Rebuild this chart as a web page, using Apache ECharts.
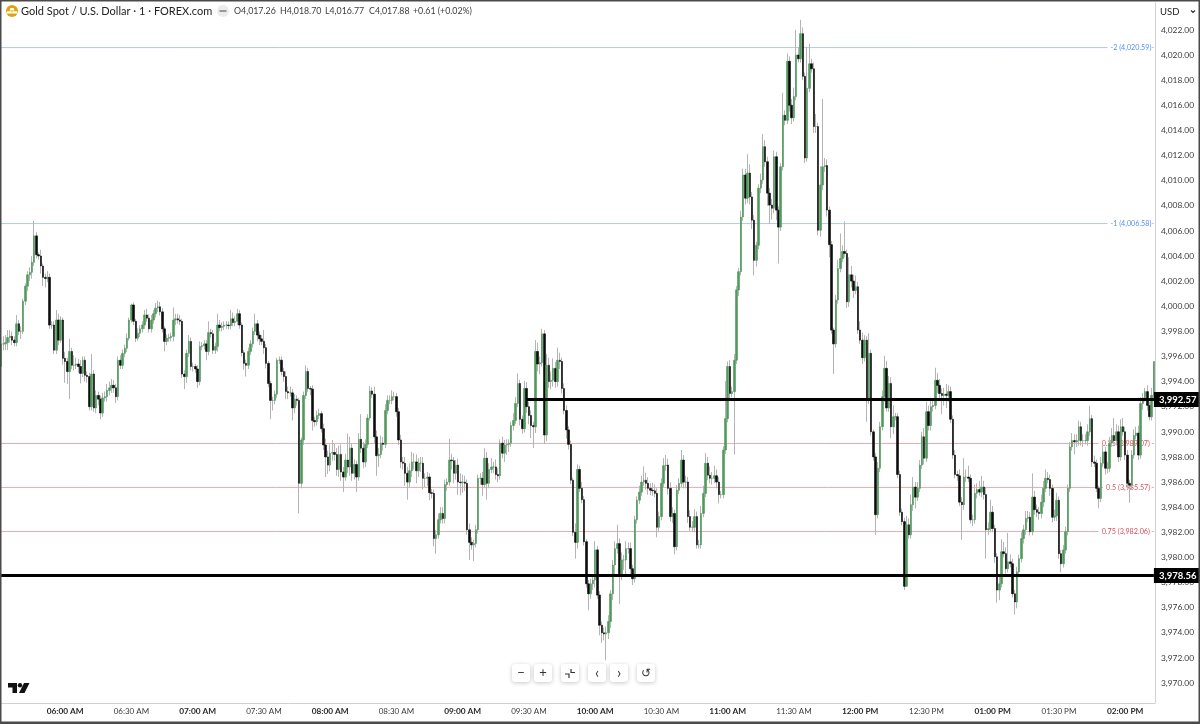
<!DOCTYPE html>
<html><head><meta charset="utf-8">
<style>html,body{margin:0;padding:0;background:#fff}#c{width:1200px;height:724px}</style>
<script src="https://cdn.jsdelivr.net/npm/echarts@6/dist/echarts.min.js"></script>
</head><body><div id="c"></div>
<script>
const firstOpen = 3995.2;
const closes = [
3997.0,3997.0,3997.1,3997.5,3997.6,3997.3,3997.1,3998.6,3998.0,3998.0,
4000.4,4001.6,4002.5,4002.7,4003.5,4005.6,4004.1,4004.0,4003.2,4002.3,
4002.2,4002.3,3998.5,3998.5,3996.5,3998.9,3997.3,3998.9,3995.85,3995.6,
3994.8,3996.4,3995.3,3995.3,3995.4,3995.2,3994.65,3995.7,3994.5,3994.4,
3992.0,3994.6,3991.9,3992.9,3992.6,3991.5,3992.7,3992.8,3993.3,3993.5,
3993.7,3993.5,3992.8,3995.7,3995.3,3996.25,3996.65,3997.45,3998.9,4000.1,
3998.8,3997.45,3997.85,3998.2,3998.5,3999.3,3999.05,3998.2,3998.9,3999.4,
3999.85,3999.95,3999.55,3998.2,3997.2,3997.45,3997.5,3997.6,3998.9,3999.0,
3998.9,3998.8,3994.6,3994.4,3996.25,3997.2,3995.2,3995.2,3995.0,3994.0,
3996.8,3996.85,3997.0,3996.4,3997.9,3997.8,3996.5,3996.8,3998.5,3998.3,
3998.4,3998.5,3998.5,3998.45,3999.0,3998.7,3998.8,3999.4,3998.5,3996.3,
3995.45,3995.3,3996.4,3997.0,3998.0,3998.6,3997.7,3997.4,3997.2,3996.7,
3995.45,3993.85,3992.5,3992.5,3993.0,3995.7,3995.7,3994.8,3994.4,3993.2,
3993.1,3993.1,3991.9,3992.6,3992.5,3985.9,3989.35,3992.9,3994.8,3993.45,
3993.4,3990.9,3990.8,3991.3,3991.45,3990.25,3988.95,3988.0,3987.35,3988.3,
3988.35,3988.2,3987.0,3988.2,3986.8,3986.4,3987.75,3987.2,3988.7,3986.7,
3987.4,3986.4,3989.4,3988.7,3987.6,3989.0,3991.1,3993.25,3993.0,3989.6,
3988.1,3988.2,3989.1,3989.0,3991.7,3992.5,3992.5,3992.8,3992.8,3991.6,
3989.35,3987.6,3987.5,3986.7,3986.0,3986.9,3987.6,3987.6,3986.9,3987.5,
3987.5,3986.3,3986.3,3986.4,3985.15,3985.1,3981.5,3981.8,3983.0,3983.5,
3983.1,3985.8,3986.0,3987.75,3987.7,3986.7,3987.35,3986.0,3985.95,3986.0,
3985.9,3982.2,3981.2,3981.0,3981.1,3982.2,3986.3,3986.3,3985.8,3987.9,
3985.9,3987.0,3987.2,3987.2,3986.6,3986.5,3989.1,3988.3,3988.95,3989.0,
3989.1,3990.5,3990.9,3992.26,3993.85,3991.0,3990.25,3993.45,3992.0,3991.3,
3990.5,3990.4,3996.4,3995.4,3995.5,3997.8,3989.75,3995.3,3994.0,3994.1,
3995.05,3994.0,3995.7,3995.6,3993.45,3991.7,3990.15,3989.0,3986.15,3982.0,
3981.2,3987.0,3985.5,3984.6,3981.25,3977.9,3977.1,3977.9,3978.2,3980.6,
3977.0,3974.6,3974.0,3973.9,3974.0,3974.9,3977.1,3979.4,3980.7,3981.1,
3978.7,3979.8,3979.8,3980.7,3980.7,3979.1,3978.3,3983.0,3984.56,3985.2,
3986.0,3986.15,3985.9,3985.5,3985.35,3985.3,3985.1,3982.4,3983.25,3985.9,
3987.3,3987.35,3985.5,3983.25,3983.5,3980.85,3985.35,3985.9,3987.75,3986.0,
3986.0,3983.25,3982.4,3982.4,3983.25,3981.0,3981.0,3983.5,3985.1,3987.5,
3986.55,3986.3,3986.3,3986.5,3986.0,3985.0,3985.0,3988.55,3991.05,3995.2,
3993.05,3993.2,3995.7,4001.3,4002.75,4007.1,4010.45,4008.6,4010.6,4008.7,
4006.85,4003.65,4004.85,4009.4,4010.05,4012.7,4011.5,4009.0,4008.05,4007.8,
4011.9,4007.65,4006.3,4011.1,4015.2,4014.8,4019.5,4016.0,4015.0,4016.7,
4020.0,4019.7,4021.7,4018.3,4011.8,4017.35,4019.3,4018.9,4014.3,4014.3,
4006.05,4009.65,4011.1,4011.2,4007.65,4004.9,3998.1,3997.0,4000.5,4003.0,
4003.8,4004.35,4004.2,4000.35,4002.5,4002.0,4001.25,4001.55,3998.1,3997.3,
3995.9,3997.3,3992.5,3996.25,3990.0,3988.0,3983.4,3987.1,3990.4,3992.8,
3995.05,3991.9,3993.85,3990.4,3991.2,3991.2,3986.6,3983.6,3982.85,3977.7,
3982.6,3981.8,3984.2,3985.6,3984.8,3985.5,3987.35,3989.6,3987.9,3991.6,
3990.5,3992.0,3992.1,3994.1,3993.7,3993.05,3992.9,3993.0,3992.9,3993.2,
3991.0,3988.15,3986.6,3986.5,3984.4,3984.2,3986.4,3986.4,3986.3,3983.0,
3983.0,3985.1,3985.4,3985.2,3985.6,3985.0,3982.2,3982.3,3983.6,3982.3,
3980.05,3977.4,3977.9,3980.45,3980.3,3979.1,3979.65,3979.5,3977.1,3976.45,
3978.85,3979.9,3981.5,3982.2,3983.1,3983.2,3982.05,3984.8,3983.8,3983.6,
3983.5,3984.4,3985.5,3986.3,3986.2,3985.5,3983.2,3983.3,3984.55,3980.3,
3979.5,3980.6,3982.05,3985.5,3988.8,3989.3,3989.2,3989.3,3990.4,3989.3,
3989.3,3989.3,3990.0,3991.05,3987.6,3987.5,3985.5,3984.7,3987.5,3988.4,
3987.1,3987.1,3989.1,3989.7,3989.3,3990.0,3988.0,3990.4,3990.0,3988.15,
3985.9,3985.75,3988.15,3989.7,3989.9,3988.15,3992.25,3992.7,3993.2,3992.1,
3991.2,3992.9,3995.6];
const upperWicks = [
.8,.6,.6,.6,.5,.4,.3,.7,.3,.4, .2,.2,.3,.4,.5,1.2,.3,.2,.5,.2,
.3,.5,.3,.3,.3,.8,.5,.3,.2,.5, .3,1.0,.3,.8,.5,.4,.5,.3,.3,.3,
.3,1.6,.3,.4,.3,.3,.4,.4,.5,.5, .5,.4,.3,.3,.4,.3,.3,.4,.2,.1,
.2,.2,.4,.3,.3,.4,.5,.3,.4,.3, .4,.5,.4,.3,.2,.3,.3,.3,1.0,.4,
.4,.4,.2,.3,.3,.5,.3,.3,.2,.3, .4,.3,.3,.3,.9,.3,.3,.3,.9,.4,
.3,.3,.3,.3,.7,.5,.4,.4,.3,.2, .2,.3,.3,.3,.3,.8,.3,.3,.3,.9,
.3,.2,.2,.3,.3,.2,.3,.3,.3,.4, .4,.5,.3,.4,.3,.2,.2,.3,.5,.3,
.2,.3,.3,.4,.4,.2,.4,.5,.5,.7, 1.0,.7,.5,.7,.8,.4,.5,2.1,.9,.4,
.4,.3,.5,2.0,.5,.4,.3,.4,.3,.6, .5,.5,.6,.5,.5,.4,.4,.5,.4,.3,
.3,.4,.4,.5,.5,.6,.8,.7,.6,.4, .5,.5,.4,.4,.3,.3,.3,.4,.5,.5,
.5,.4,.3,1.7,.5,.3,.4,.5,.7,.6, .5,.3,.5,.4,.3,.4,.3,.4,.5,.8,
.5,.5,.7,.4,.6,.5,.3,.5,.4,.4, .3,.3,.6,.5,.8,.3,.3,.6,.5,.4,
.4,.3,.9,.7,.5,.4,.3,.9,.6,.7, .8,.5,1.0,.6,.3,.4,.4,.3,.3,.2,
.7,.4,.3,.5,.3,.2,.3,.4,.4,.7, .3,.3,.3,.4,.5,.5,.3,.4,.6,1.5,
.4,.6,.4,.6,.5,.5,.3,.3,.3,.5, .5,1.1,.6,.5,.4,.6,.5,.4,.4,.4,
.6,.8,.5,.5,.5,.3,.4,.4,.8,.4, .5,.4,.5,.5,.6,.4,.4,.6,.6,.8,
.5,.7,.5,.8,.5,.4,.3,.3,3.0,.4, .5,.4,.5,.3,.3,.5,.5,.5,1.5,.7,
.4,.4,.3,.3,.5,1.0,.5,.4,.4,.5, .5,.4,.3,.3,1.8,.4,.6,.4,.5,.7,
2.0,.6,1.1,.5,.3,3.3,1.6,.4,.5,1.0, .3,1.5,5.4,.6,.5,.3,.3,.2,.4,.7,
2.0,.5,2.4,.3,1.4,.7,.5,.9,.4,.7, .6,.4,.3,1.6,.3,.2,.3,.5,.4,.5,
1.0,.6,.6,.5,.9,.3,.3,.3,.3,.3, .7,.5,.8,.8,.4,.5,.4,.4,.7,.8,
.5,.7,.5,1.0,.6,.5,.4,.5,.8,.5, .4,.3,.4,.3,.5,.4,1.5,.6,.9,.3,
.4,.7,.5,.7,.9,.5,.6,.5,1.0,.5, .3,.3,.7,1.0,.8,.5,2.3,.6,.4,.3,
.4,.3,.5,.4,.6,.5,.4,1.9,.5,.4, .4,.6,.6,.7,.5,.4,.3,.5,.6,.3,
.3,.4,.4,.3,.4,.6,.5,.5,.5,.4, .5,.5,.6,1.0,.3,.5,.3,.2,.5,.5,
.4,.5,.5,.6,1.4,.6,.5,.6,.7,.4, .4,.3,.4,.5,.5,.6,.5,.4,.3,.5,
.3,.6,0];
const lowerWicks = [
.5,.5,.5,.6,.4,.4,.3,.3,.3,.6, .2,.3,.4,.5,.5,.3,.3,.3,.6,.7,
.7,.3,.3,.3,.3,.3,.4,.2,.5,1.7, 1.0,2.2,.3,.4,.3,.5,.8,.3,.5,.5,
.3,.3,.3,.4,.5,.5,.3,.3,.4,.4, .4,.4,.5,.3,.3,.3,.3,.3,.2,.2,
.3,.3,.2,.3,.3,.3,.3,.3,.3,.3, .3,.3,.3,.3,.8,.3,.3,.3,.4,.4,
.3,.3,.3,1.0,.5,.3,.3,.4,.3,.5, .3,.3,.3,.7,.3,.3,.3,.3,.4,.3,
.3,.3,.3,.3,.3,.3,.3,.3,.3,.3, .5,.9,.3,.3,.3,.3,.5,.5,.3,.5,
.4,.3,1.5,.8,.3,.3,.3,.3,.4,.6, .5,.3,1.0,.4,.4,2.4,.4,.4,.3,.3,
.5,.8,.4,.3,.3,.3,.4,1.6,.7,.5, .6,.5,.5,.6,.7,1.2,.3,.5,.7,.6,
.5,1.2,.3,.4,.5,.4,.3,.2,.3,.5, 1.6,.9,.3,.5,.3,.3,.3,.3,.3,.4,
.4,.5,.5,1.0,1.4,.4,.5,.6,1.0,.5, .7,.9,.7,.6,.6,.4,.6,1.2,.3,.3,
.4,.4,.5,.3,.7,.8,.5,1.0,1.0,.8, .6,.4,1.4,.4,1.3,.3,.3,.5,.9,.3,
1.3,.4,.3,.5,.4,.5,.3,.4,.7,.8, .6,.3,.4,.3,.3,.5,.4,.3,.5,.7,
1.0,1.7,.5,.6,.8,.3,.7,.5,.5,.6, .5,.5,.4,.6,.4,.3,.7,.4,.3,.3,
1.3,.5,.3,.3,.3,.3,1.3,.4,.5,.6, .3,.8,.8,.5,2.1,.5,.5,.5,.8,.4,
2.4,.5,.8,1.3,.4,.6,.5,.3,.3,.3, .3,.3,.5,.5,.4,.4,.3,.8,.4,.3,
.3,.4,.5,.4,.5,.6,.3,.3,.3,.5, .5,.5,.3,.4,.4,.3,.3,.3,.3,.3,
.4,.4,.5,.4,.5,.7,.3,.3,.3,.3, .5,.3,5.0,.3,.5,.3,.3,.5,.4,.6,
.7,1.2,.5,.3,.4,.3,.4,1.0,1.5,.9, .4,.8,2.9,.3,.3,.4,.3,.5,.5,.3,
.3,.3,.3,.3,.4,.3,.3,.3,.5,.5, .4,.5,.4,.4,.5,1.0,.3,2.4,.3,.3,
.3,.3,.3,.5,.4,.5,.6,.3,.3,.3, .5,.3,1.7,.3,.3,.3,1.6,.3,.3,.3,
.4,.3,.3,.9,.6,.3,.3,.3,.3,.3, 0,.3,.3,.5,.9,.3,.3,.3,.5,.3,
.4,.4,.4,.3,.6,.4,1.5,.8,1.0,.5, .3,.3,.3,.4,.3,2.8,.4,.4,.3,.3,
.5,.3,.4,.3,.4,.4,2.3,.4,.3,.3, .5,1.0,.8,.3,.3,.4,.3,.3,.3,1.0,
.5,.3,.3,.4,.4,.3,.3,.3,.4,.4, .5,.4,.4,.3,.3,.6,.4,.3,.4,.4,
.7,.3,.3,.3,.3,.3,1.0,.4,.4,.4, .5,.3,.4,.3,.4,.3,.3,.8,.3,.3,
.5,.4,.3,.3,.3,.4,.4,.3,.3,.4, .4,1.4,.3,.3,.3,.4,.3,.5,.3,.4,
.3,.3,.4];
const yTicks = [3970,3972,3974,3976,3978,3980,3982,3984,3986,3988,3990,3992,3994,3996,3998,4000,4002,4004,4006,4008,4010,4012,4014,4016,4018,4020,4022];
const fibLevels = ["-2","-1","0.25","0.5","0.75"];
const fibPrices = [4020.59,4006.58,3989.07,3985.57,3982.06];
const fibBreak  = ["01:52 PM","01:52 PM","01:48 PM","01:50 PM","01:48 PM"];
const fibLineColor = ["#b0c6fb","#b0c6fb","#eeaab1","#eeaab1","#eeaab1"];
const fibTextColor = ["#5b8def","#5b8def","#d5505c","#d5505c","#d5505c"];
const levelPrices = [3992.57,3978.56];
const levelStart = ["09:29 AM","05:31 AM"];
const legendText = ["O4,017.26","H4,018.70","L4,016.77","C4,017.88","+0.61 (+0.02%)"];
const legendX = [234,280,325,369,413];

const fontF = 'Lato, "Noto Sans", sans-serif';
const fmt = v => v.toLocaleString('en-US',{minimumFractionDigits:2,maximumFractionDigits:2});

// one-minute categories starting at 05:31
const times = closes.map((_, i) => {
  const m = 5*60 + 31 + i, h24 = Math.floor(m/60), mm = m%60, h12 = h24 > 12 ? h24-12 : h24;
  return String(h12).padStart(2,'0')+':'+String(mm).padStart(2,'0')+(h24>=12?' PM':' AM');
});
const opens = closes.map((c,i) => i ? closes[i-1] : firstOpen);
const full = closes.map((c,i) => [opens[i], c, Math.min(opens[i],c)-lowerWicks[i], Math.max(opens[i],c)+upperWicks[i]]);
const bodies = closes.map((c,i) => [opens[i], c, Math.min(opens[i],c), Math.max(opens[i],c)]);

const lastT = times[times.length-1];
const fibSeries = [];
fibPrices.forEach((p,k) => {
  fibSeries.push({name:'fib '+fibLevels[k],type:'line',silent:true,z:1,symbol:'none',showSymbol:false,
    data:[[times[0],p],[fibBreak[k],p]],
    lineStyle:{color:fibLineColor[k],width:1,type:'solid'},itemStyle:{color:fibLineColor[k]},
    endLabel:{show:true,distance:3,formatter:fibLevels[k]+' ('+fmt(p)+')',color:fibTextColor[k],fontSize:7.2,fontFamily:fontF}});
  fibSeries.push({name:'fib end '+fibLevels[k],type:'line',silent:true,z:1,symbol:'none',showSymbol:false,
    data:[[times[times.length-2],p],[lastT,p]],
    lineStyle:{color:fibLineColor[k],width:1,type:'solid'},itemStyle:{color:fibLineColor[k]}});
});
const levelData = levelPrices.map((p,k)=>[
  {xAxis:levelStart[k], yAxis:p, label:{formatter:fmt(p)}},
  {xAxis:lastT, yAxis:p}
]);

const btn = (x,w) => ({type:'rect',shape:{x:x,y:664,width:w,height:18,r:3},style:{fill:'#fff',shadowBlur:4,shadowColor:'rgba(0,0,0,.22)',shadowOffsetY:1},z:50});
const ico = (t,x,s) => ({type:'text',x:x,y:673,style:{text:t,fill:'#333',font:(s||13)+'px '+fontF,align:'center',verticalAlign:'middle'},z:51});
const line = (pts) => ({type:'polyline',shape:{points:pts},style:{stroke:'#333',lineWidth:1.2,fill:null},z:51});

const chart = echarts.init(document.getElementById('c'),null,{renderer:'canvas'});
chart.setOption({
  animation:false,
  backgroundColor:'#fff',
  grid:{left:0,top:3,width:1155,height:700,containLabel:false},
  xAxis:{type:'category',data:times,boundaryGap:true,
    axisLine:{show:true,lineStyle:{color:'#cfd1d4',width:1}},axisTick:{show:false},splitLine:{show:false},
    axisLabel:{interval:(i,v)=>/:(00|30) /.test(v),margin:4,hideOverlap:false,
      formatter:v=>/:00 /.test(v)?'{b|'+v+'}':'{n|'+v+'}',
      rich:{b:{fontSize:8.3,fontWeight:'bold',color:'#2a2a2a',fontFamily:fontF},n:{fontSize:8,color:'#3a3a3a',fontFamily:fontF}}}},
  yAxis:{type:'value',position:'right',min:3968.41,max:4024.14,scale:true,
    axisLine:{show:true,lineStyle:{color:'#cfd1d4',width:1}},axisTick:{show:false},splitLine:{show:false},
    axisLabel:{customValues:yTicks,formatter:v=>fmt(v),fontSize:8.4,color:'#3a3a3a',margin:6,fontFamily:fontF}},
  series:[
    ...fibSeries,
    {name:'wicks',type:'candlestick',data:full,barWidth:1,z:2,silent:true,
     itemStyle:{color:'#b4b4b4',color0:'#b4b4b4',borderColor:'#b4b4b4',borderColor0:'#b4b4b4',borderWidth:1}},
    {name:'XAUUSD',type:'candlestick',data:bodies,barWidth:2,z:3,silent:true,
     itemStyle:{color:'#4f9a5c',color0:'#0c0c0c',borderColor:'#4f9a5c',borderColor0:'#0c0c0c',borderWidth:0.6}},
    {name:'levels',type:'line',data:[],silent:true,z:5,
     markLine:{silent:true,symbol:'none',animation:false,z:5,
       lineStyle:{color:'#000',width:3,type:'solid'},
       label:{show:true,position:'end',distance:0,backgroundColor:'#000',color:'#fff',
         fontSize:9.5,fontWeight:'bold',fontFamily:fontF,padding:[3,3,2,5]},
       data:levelData}}
  ],
  graphic:[
    {type:'rect',shape:{x:0,y:0,width:1200,height:723},style:{fill:null,stroke:'#4a4a4a',lineWidth:3},z:60,silent:true},
    {type:'circle',shape:{cx:12,cy:11,r:6},style:{fill:'#e2a20e'},z:40},
    {type:'polygon',shape:{points:[[10.5,8],[13.5,8],[14.5,10.5],[9.5,10.5]]},style:{fill:'#fff'},z:41},
    {type:'polygon',shape:{points:[[7,11.3],[11.5,11.3],[12,13.5],[6.5,13.5]]},style:{fill:'#fff'},z:41},
    {type:'polygon',shape:{points:[[12.5,11.3],[17,11.3],[17.5,13.5],[12,13.5]]},style:{fill:'#fff'},z:41},
    {type:'text',x:21,y:11,style:{text:'Gold Spot / U.S. Dollar · 1 · FOREX.com',fill:'#222',font:'11px '+fontF,verticalAlign:'middle'},z:40},
    {type:'circle',shape:{cx:223,cy:11,r:6},style:{fill:'#ececec'},z:40},
    {type:'rect',shape:{x:219.5,y:10,width:7,height:2},style:{fill:'#999'},z:41},
    ...legendText.map((t,k)=>({type:'text',x:legendX[k],y:11,style:{text:t,fill:'#3c3c3c',font:'8.8px '+fontF,verticalAlign:'middle'},z:40})),
    {type:'text',x:1160,y:11.5,style:{text:'USD',fill:'#222',font:'9.5px '+fontF,verticalAlign:'middle'},z:40},
    line([[1191,10.5],[1193,12.5],[1195,10.5]]),
    btn(512,18),btn(534,18),btn(561,18),btn(588,18),btn(610,18),btn(637,18),
    ico('−',521),ico('+',543),ico('‹',597,15),ico('›',619,15),ico('↺',646,12),
    line([[565,674],[569,674],[569,678]]),line([[571,669],[571,672.5],[575,672.5]]),
    {type:'polygon',shape:{points:[[8,683],[17,683],[17,693],[12.5,693],[12.5,687.5],[8,687.5]]},style:{fill:'#111'},z:40},
    {type:'circle',shape:{cx:20,cy:685.3,r:2.2},style:{fill:'#111'},z:40},
    {type:'polygon',shape:{points:[[24,683],[29.5,683],[24.5,693],[19,693]]},style:{fill:'#111'},z:40}
  ]
});
</script></body></html>
